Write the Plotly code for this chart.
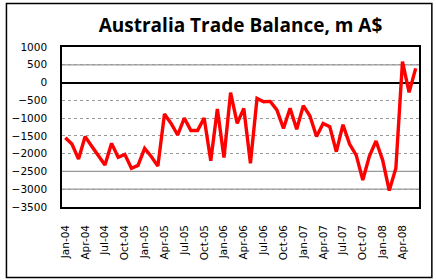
import plotly.graph_objects as go

months = ["Jan", "Feb", "Mar", "Apr", "May", "Jun", "Jul", "Aug", "Sep", "Oct", "Nov", "Dec"]
categories = [f"{m}-{y:02d}" for y in range(4, 9) for m in months][:54]

balance = [
    -1550, -1730, -2150, -1520, -1790, -2040, -2320, -1710, -2100, -2020,
    -2410, -2330, -1850, -2080, -2350, -885, -1150, -1475, -1000, -1350,
    -1350, -1000, -2200, -745, -2110, -285, -1150, -725, -2270, -445,
    -540, -530, -770, -1290, -725, -1315, -650, -940, -1520, -1150,
    -1240, -1945, -1185, -1730, -2040, -2740, -2070, -1645, -2180, -3040,
    -2410, 590, -275, 400,
]

tick_labels = categories[::3]
y_ticks = list(range(1000, -3501, -500))
solid_grid = [500, -2500, -3000]

fig = go.Figure()
fig.add_trace(go.Scatter(
    x=categories, y=balance, mode="lines",
    line=dict(color="#ff0000", width=3.4),
    showlegend=False, hoverinfo="skip",
))

shapes = []
for v in solid_grid:
    shapes.append(dict(type="line", xref="paper", yref="y", x0=0, x1=1, y0=v, y1=v,
                       line=dict(color="#999999", width=1.3), layer="below"))
# outer chart border
shapes.append(dict(type="rect", xref="paper", yref="paper",
                   x0=-0.1556, x1=1.036, y0=-0.44, y1=1.272,
                   line=dict(color="black", width=1.5), fillcolor="rgba(0,0,0,0)"))

fig.update_layout(
    width=436, height=280,
    margin=dict(l=59, r=17, t=47, b=73),
    paper_bgcolor="white", plot_bgcolor="white",
    title=dict(text="<b>Australia Trade Balance, m A$</b>", x=0.5, xref="paper",
               y=1 - 25 / 280, yref="container", yanchor="middle",
               font=dict(family="Open Sans", size=19, color="black")),
    shapes=shapes,
    font=dict(family="DejaVu Sans", size=10.5, color="black"),
)

fig.update_xaxes(
    type="category", categoryorder="array", categoryarray=categories,
    tickmode="array", tickvals=tick_labels, ticktext=tick_labels,
    tickangle=-90, showgrid=False, ticks="", ticklabelstandoff=12,
    showline=True, linecolor="black", linewidth=1.5, mirror=True,
    range=[-0.5, len(categories) - 0.5],
    tickfont=dict(family="DejaVu Sans", size=10.5),
)
fig.update_yaxes(
    range=[-3500, 1000], tickmode="array", tickvals=y_ticks,
    showgrid=True, gridcolor="#999999", griddash="dot", gridwidth=1,
    zeroline=True, zerolinecolor="black", zerolinewidth=1.5,
    showline=True, linecolor="black", linewidth=1.5, mirror=True,
    ticks="", ticklabelstandoff=11,
    tickfont=dict(family="DejaVu Sans", size=10.5),
)

fig.write_html("out.html")
